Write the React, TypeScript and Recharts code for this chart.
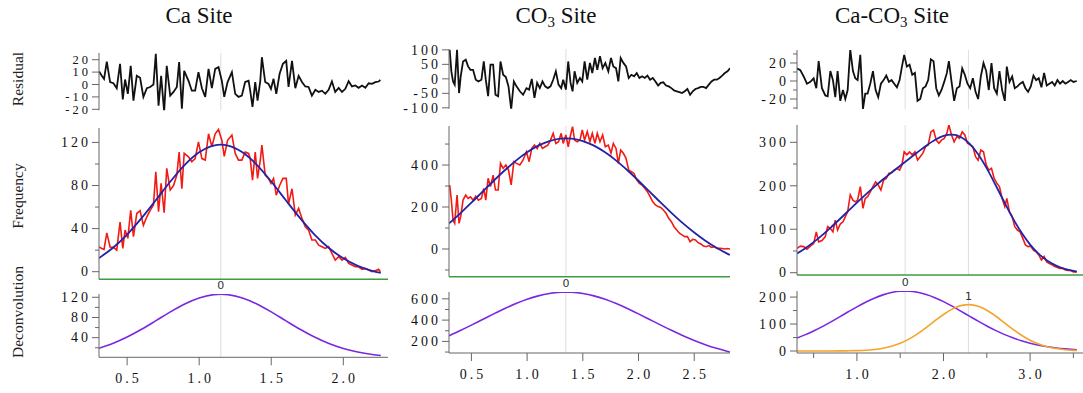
import React from 'react';
import { LineChart, Line, XAxis, YAxis, ReferenceLine, ReferenceDot } from 'recharts';

// ---- Ca site ----
const caX = [
  0.306, 0.324, 0.34, 0.359, 0.382, 0.405, 0.428, 0.451, 0.47, 0.486,
  0.505, 0.525, 0.544, 0.567, 0.59, 0.613, 0.637, 0.66, 0.683, 0.699,
  0.718, 0.736, 0.757, 0.775, 0.799, 0.822, 0.845, 0.861, 0.88, 0.896,
  0.926, 0.949, 0.972, 0.995, 1.019, 1.042, 1.065, 1.088, 1.111, 1.134,
  1.157, 1.174, 1.197, 1.227, 1.25, 1.273, 1.296, 1.319, 1.343, 1.354,
  1.37, 1.389, 1.405, 1.424, 1.435, 1.458, 1.481, 1.498, 1.516, 1.535,
  1.558, 1.581, 1.604, 1.62, 1.644, 1.667, 1.69, 1.713, 1.736, 1.759,
  1.782, 1.806, 1.829, 1.852, 1.875, 1.898, 1.921, 1.944, 1.968, 1.991,
  2.014, 2.037, 2.06, 2.083, 2.106, 2.13, 2.153, 2.176, 2.199, 2.222,
  2.245, 2.257,
];
const caData = [
  23, 21.6, 20.7, 36, 23, 22.6, 20, 46, 21.6, 38.6,
  31, 57, 32.5, 54, 56.6, 43, 51, 57, 62, 92.8,
  55.7, 82, 54.7, 95.9, 75.8, 80, 89.7, 111, 77, 109.8,
  106.7, 102, 105, 120.6, 105, 103.6, 128, 116, 128, 132,
  122, 107, 122, 126.8, 109.8, 103.6, 103.6, 111, 109.8, 105,
  85, 111, 86.6, 103.6, 117.5, 89.7, 86.6, 82, 86.6, 71,
  80, 86.6, 86.6, 63, 77, 52.6, 58.8, 49.5, 41.7, 38.6,
  29.4, 29.4, 24.7, 23.2, 21.6, 23.2, 17, 10.8, 13.9, 10.8,
  13.3, 7.7, 6.2, 4.6, 4.6, 2.2, 3, 1.5, 0, 1,
  2.2, 0,
];
const caResidual = [
  10.5, 7, 4.5, 18.5, 2, 1, -3, 16.7, -12, 4,
  -7.5, 15, -13, 7, 5.4, -10, -3, -2, 0, 24.7,
  -17, 7, -22, 15, -9, -6, -2, 18, -19.6, 11,
  3, -5, -5, 10, -3, -10, 12.6, -3, 12.6, 14,
  3, -10, 2, 10, -7.5, -10, -9, 2, 3, -5,
  -18, 2, -13, 3, 22, 2, 0.5, -3.5, 4.6, -7.5,
  8.6, 16.7, 19, -2, 19, -3, 7, 2, -1.6, -2,
  -9, -4.3, -6, -5, -7.5, -4.3, 2.4, -6, -2.7, -6,
  -3.5, 2.7, -1.6, -0.8, -2.7, -0.8, -2.7, 1, 0.5, 1.9,
  2.4, 3.8,
];
const caFitX = [0.305, 0.4, 0.5, 0.6, 0.7, 0.8, 0.9, 1.0, 1.1, 1.15, 1.2, 1.3, 1.4, 1.5, 1.6, 1.7, 1.8, 1.9, 2.0, 2.1, 2.2, 2.26];
const caFit = [12.7, 22.0, 34.5, 49.7, 66.5, 83.7, 99.2, 110.8, 117.1, 118, 117.1, 110.8, 99.2, 83.7, 66.5, 49.7, 34.5, 22.0, 12.4, 5.4, 0.7, -1.2];
const caPeak0 = [19.1, 28.5, 41.2, 56.6, 73.7, 91.1, 106.8, 118.7, 125.2, 126, 125.2, 118.7, 106.8, 91.1, 73.7, 56.6, 41.2, 28.5, 18.6, 11.6, 6.8, 4.8];
const caCenters = [1.15];
const caPeakHeights = [126];

// ---- CO3 site ----
const co3X = [
  0.305, 0.32, 0.335, 0.35, 0.371, 0.389, 0.404, 0.425, 0.449, 0.47,
  0.491, 0.515, 0.539, 0.563, 0.59, 0.611, 0.629, 0.65, 0.671, 0.695,
  0.716, 0.74, 0.761, 0.785, 0.809, 0.833, 0.857, 0.881, 0.905, 0.935,
  0.964, 0.994, 1.018, 1.042, 1.066, 1.09, 1.114, 1.138, 1.162, 1.186,
  1.21, 1.234, 1.258, 1.282, 1.306, 1.324, 1.348, 1.369, 1.39, 1.408,
  1.426, 1.45, 1.474, 1.495, 1.516, 1.54, 1.564, 1.585, 1.609, 1.63,
  1.654, 1.678, 1.702, 1.729, 1.753, 1.774, 1.798, 1.819, 1.84, 1.864,
  1.888, 1.912, 1.936, 1.96, 1.984, 2.008, 2.032, 2.056, 2.08, 2.104,
  2.128, 2.152, 2.176, 2.199, 2.223, 2.247, 2.271, 2.295, 2.319, 2.343,
  2.367, 2.391, 2.415, 2.439, 2.463, 2.487, 2.511, 2.535, 2.559, 2.583,
  2.607, 2.631, 2.655, 2.679, 2.703, 2.727, 2.751, 2.775, 2.799, 2.823,
];
const co3Data = [
  305, 233, 138, 122, 257, 122, 154, 233, 257, 241,
  249, 233, 252, 233, 241, 289, 233, 337, 297, 352,
  281, 281, 408, 384, 400, 376, 305, 416, 408, 400,
  424, 463, 416, 479, 495, 479, 503, 479, 487, 495,
  519, 551, 503, 511, 551, 503, 543, 487, 543, 583,
  519, 511, 519, 567, 519, 559, 511, 551, 503, 551,
  511, 543, 487, 495, 456, 503, 479, 408, 471, 456,
  432, 376, 368, 360, 329, 313, 305, 289, 273, 249,
  225, 210, 202, 198, 186, 170, 146, 130, 106, 90,
  75, 67, 59, 59, 35, 46, 43, 30, 24, 14,
  11, 16, 8, 11, 3, 3, 2, 0, 2, 0,
];
const co3Residual = [
  100, 26, -9, -20, 100, -49, 9, 60, 66, 43,
  31, 31, -3, -9, -3, 60, -3, -60, 49, 49,
  -55, -60, 60, 14, 6, -26, -106, -9, -26, -43,
  -55, -32, -37, 0, -66, -14, -32, -9, -26, -32,
  -26, -3, 26, -20, -32, -3, -37, 60, -14, -43,
  26, -14, 3, -9, 60, -3, 55, 20, 72, 31,
  78, 37, 55, 26, 72, 43, 37, -9, 72, 55,
  43, 3, 14, 9, 20, 3, 9, 3, 11, -3,
  3, -9, -23, -14, -12, -23, -26, -32, -40, -43,
  -46, -49, -43, -35, -55, -43, -35, -32, -28, -28,
  -32, -20, -9, -3, -3, 3, 11, 20, 26, 37,
];
const co3FitX = [0.3, 0.4, 0.5, 0.6, 0.7, 0.8, 0.9, 1.0, 1.1, 1.2, 1.3, 1.35, 1.4, 1.5, 1.6, 1.7, 1.8, 1.9, 2.0, 2.1, 2.2, 2.3, 2.4, 2.5, 2.6, 2.7, 2.8, 2.82];
const co3Fit = [122, 170.0, 220.5, 272.9, 325.1, 375.0, 420.9, 460.6, 492.3, 514.3, 525.6, 527, 525.6, 514.3, 492.3, 460.6, 420.9, 375.0, 325.1, 272.9, 220.5, 170.0, 122.0, 78.5, 39.5, 5.6, -23.4, -28.6];
const co3Peak0 = [253.3, 301.7, 352.9, 405.8, 458.6, 509.2, 555.5, 595.8, 627.8, 650.1, 661.5, 663, 661.5, 650.1, 627.8, 595.8, 555.5, 509.2, 458.6, 405.8, 352.9, 301.7, 253.3, 209.1, 169.6, 135.2, 105.9, 100.6];
const co3Centers = [1.348];
const co3PeakHeights = [663];

// ---- Ca-CO3 site ----
const cacoX = [
  0.308, 0.346, 0.385, 0.423, 0.462, 0.5, 0.531, 0.558, 0.596, 0.635,
  0.662, 0.693, 0.723, 0.75, 0.777, 0.808, 0.839, 0.866, 0.893, 0.923,
  0.954, 0.981, 1.008, 1.039, 1.07, 1.096, 1.123, 1.154, 1.185, 1.216,
  1.246, 1.277, 1.308, 1.339, 1.37, 1.4, 1.431, 1.462, 1.493, 1.52,
  1.546, 1.577, 1.608, 1.639, 1.67, 1.7, 1.731, 1.762, 1.793, 1.823,
  1.854, 1.885, 1.916, 1.946, 1.977, 2.008, 2.039, 2.062, 2.093, 2.123,
  2.154, 2.185, 2.216, 2.246, 2.277, 2.308, 2.339, 2.37, 2.4, 2.431,
  2.462, 2.493, 2.523, 2.554, 2.585, 2.616, 2.646, 2.677, 2.708, 2.731,
  2.762, 2.793, 2.823, 2.854, 2.885, 2.916, 2.946, 2.977, 3.008, 3.039,
  3.07, 3.1, 3.131, 3.162, 3.192, 3.223, 3.254, 3.285, 3.316, 3.346,
  3.377, 3.408, 3.439, 3.47, 3.5, 3.539,
];
const cacoData = [
  56, 61, 60, 54, 61, 67, 94, 71, 74, 83,
  106, 102, 94, 121, 98, 112, 117, 129, 140, 179,
  167, 163, 167, 198, 148, 171, 175, 186, 198, 209,
  202, 190, 213, 217, 229, 230, 236, 240, 236, 248,
  278, 271, 278, 271, 278, 259, 267, 275, 290, 294,
  324, 328, 305, 298, 305, 309, 321, 340, 317, 301,
  313, 309, 324, 317, 298, 294, 290, 267, 259, 282,
  278, 248, 236, 240, 217, 206, 198, 171, 152, 171,
  140, 129, 106, 98, 94, 79, 64, 60, 61, 52,
  48, 41, 29, 37, 25, 21, 18, 14, 12, 10,
  10, 6, 5, 5, 2, 2,
];
const cacoResidual = [
  14, 12, 5, -3, -1, 3, -8, 22, -8, -16,
  -17, 11, 1, -18, 11, -22, -10, -20, -10, 35,
  11, 3, 1, 29, -31, -14, -14, -3, 11, -10,
  -18, -3, 1, 6, -1, 1, -3, -7, 1, 16,
  29, 16, 18, 7, 9, -22, -20, -8, -6, 1,
  24, 22, -8, -16, -10, -1, 9, 22, -1, -22,
  -8, -6, 14, 7, -3, -8, 3, -12, -20, 5,
  20, 11, -10, 20, -8, -14, 11, -10, -22, 16,
  -1, 5, -8, -6, -3, -1, -8, -12, -6, 6,
  1, 3, -7, 9, -5, -3, -1, -5, 1, -3,
  0, -3, -1, 1, -1, 0,
];
const cacoFitX = [0.31, 0.4, 0.5, 0.6, 0.7, 0.8, 0.9, 1.0, 1.1, 1.2, 1.3, 1.4, 1.5, 1.6, 1.7, 1.8, 1.9, 2.0, 2.1, 2.2, 2.3, 2.4, 2.5, 2.6, 2.7, 2.8, 2.9, 3.0, 3.1, 3.2, 3.3, 3.4, 3.5, 3.54];
const cacoFit = [44.3, 55.8, 70.3, 86.5, 104.2, 122.9, 142.1, 161.2, 179.8, 197.6, 214.4, 230.4, 246.0, 261.6, 277.1, 292.1, 305.3, 314.6, 317.6, 312.2, 297.1, 272.5, 239.9, 202.3, 163.2, 125.6, 92.3, 64.7, 43.2, 27.4, 16.3, 8.8, 4.0, 2.6];
const cacoPeak0 = [48.3, 59.8, 74.3, 90.4, 108.1, 126.6, 145.4, 163.8, 180.9, 195.9, 208.1, 216.7, 221.3, 221.6, 217.6, 209.5, 197.8, 183.2, 166.3, 148.0, 129.2, 110.6, 92.8, 76.4, 61.7, 48.8, 37.9, 28.8, 21.5, 15.7, 11.3, 7.9, 5.5, 4.7];
const cacoPeak1 = [0, 0, 0, 0.1, 0.1, 0.3, 0.7, 1.4, 2.9, 5.7, 10.3, 17.7, 28.7, 44.0, 63.5, 86.6, 111.5, 135.4, 155.3, 168.2, 171.9, 165.9, 151.1, 129.9, 105.5, 80.8, 58.4, 39.9, 25.7, 15.7, 9.0, 4.9, 2.5, 1.9];
const cacoCenters = [1.557, 2.288];
const cacoPeakHeights = [222, 172];

// ---- tick values / labels ----
const caResTicks = [-20, -10, 0, 10, 20];
const caResLabels = [-20, -10, 0, 10, 20];
const caFreqTicks = [0, 20, 40, 60, 80, 100, 120];
const caFreqLabels = [0, 40, 80, 120];
const caDecTicks = [20, 40, 60, 80, 100, 120];
const caDecLabels = [40, 80, 120];
const caXTicks = [0.5, 1.0, 1.5, 2.0];
const caXLabels = [0.5, 1.0, 1.5, 2.0];

const co3ResTicks = [-100, -50, 0, 50, 100];
const co3ResLabels = [-100, -50, 0, 50, 100];
const co3FreqTicks = [-100, 0, 100, 200, 300, 400, 500];
const co3FreqLabels = [0, 200, 400];
const co3DecTicks = [100, 200, 300, 400, 500, 600];
const co3DecLabels = [200, 400, 600];
const co3XTicks = [0.5, 1.0, 1.5, 2.0, 2.5];
const co3XLabels = [0.5, 1.0, 1.5, 2.0, 2.5];

const cacoResTicks = [-30, -20, -10, 0, 10, 20, 30];
const cacoResLabels = [-20, 0, 20];
const cacoFreqTicks = [0, 50, 100, 150, 200, 250, 300];
const cacoFreqLabels = [0, 100, 200, 300];
const cacoDecTicks = [0, 50, 100, 150, 200];
const cacoDecLabels = [0, 100, 200];
const cacoXTicks = [0.5, 1.0, 1.5, 2.0, 2.5, 3.0, 3.5];
const cacoXLabels = [1.0, 2.0, 3.0];

const pts = (xs: number[], ys: number[]) => xs.map((x, i) => ({ x, y: ys[i] }));

const TICK_FONT = 'Liberation Serif';
const LABEL_FONT = 'Liberation Serif';
const TICK_SIZE = 14;
const LS = 3;
const AXIS = '#666';
const TS = 7;
const TM = 4;

const RED = '#f21b13';
const BLUE = '#2323a8';
const PURPLE = '#7a28df';
const ORANGE = '#f5a32c';
const GREEN = '#3f9d3f';

const YTick = (props: any) => {
  const { x, y, payload, labels, size } = props;
  const ax = x + TS + TM;
  const major = labels.includes(payload.value);
  return (
    <g>
      <line x1={ax} x2={ax - (major ? TS : 4)} y1={y} y2={y} stroke={AXIS} />
      {major && (
        <text x={x + LS} y={y} dy="0.34em" textAnchor="end" fontFamily={TICK_FONT} fontSize={size} fill="#111" style={{ letterSpacing: LS }}>
          {String(payload.value)}
        </text>
      )}
    </g>
  );
};

const XTick = (props: any) => {
  const { x, y, payload, labels } = props;
  const ay = y - TS - 8;
  const major = labels.includes(payload.value);
  return (
    <g>
      <line x1={x} x2={x} y1={ay} y2={ay + (major ? 8 : 5)} stroke={AXIS} />
      {major && (
        <text x={x + LS / 2} y={ay + 21} dy="0.34em" textAnchor="middle" fontFamily={TICK_FONT} fontSize={TICK_SIZE} fill="#111" style={{ letterSpacing: LS }}>
          {payload.value.toFixed(1)}
        </text>
      )}
    </g>
  );
};

type Series = { data: { x: number; y: number }[]; color: string; width: number; smooth?: boolean };

type PanelProps = {
  left: number;
  right: number;
  top: number;
  bottom: number;
  xDomain: [number, number];
  yDomain: [number, number];
  yTicks: number[];
  yLabels: number[];
  series: Series[];
  centers: number[];
  peaks?: { x: number; y: number; label: string }[];
  xMode: 'none' | 'line' | 'ticks';
  xTicks?: number[];
  xLabels?: number[];
  tickFont?: number;
};

function Panel(p: PanelProps) {
  const yw = 62;
  const mt = p.xMode === 'ticks' ? 16 : 10;
  const mb = p.xMode === 'none' ? 8 : p.xMode === 'line' ? 6 : 2;
  const xh = p.xMode === 'line' ? 1 : p.xMode === 'ticks' ? 32 : 0;
  const width = p.right - p.left + yw;
  const height = p.bottom - p.top + mt + mb + xh;
  const size = p.tickFont || TICK_SIZE;
  return (
    <div style={{ position: 'absolute', left: p.left - yw, top: p.top - mt }}>
      <LineChart width={width} height={height} margin={{ top: mt, right: 0, bottom: mb, left: 0 }}>
        {p.xMode === 'ticks' ? (
          <XAxis
            type="number"
            dataKey="x"
            domain={p.xDomain}
            allowDataOverflow
            ticks={p.xTicks}
            interval={0}
            height={xh}
            tickSize={TS}
            tickMargin={8}
            tickLine={false}
            axisLine={{ stroke: AXIS }}
            tick={(t: any) => <XTick {...t} labels={p.xLabels} />}
          />
        ) : (
          <XAxis
            type="number"
            dataKey="x"
            domain={p.xDomain}
            allowDataOverflow
            hide={p.xMode === 'none'}
            height={xh}
            tick={false}
            tickLine={false}
            axisLine={{ stroke: GREEN, strokeWidth: 1.6 }}
          />
        )}
        <YAxis
          type="number"
          width={yw}
          domain={p.yDomain}
          allowDataOverflow
          ticks={p.yTicks}
          interval={0}
          tickSize={TS}
          tickMargin={TM}
          tickLine={false}
          axisLine={{ stroke: AXIS }}
          tick={(t: any) => <YTick {...t} labels={p.yLabels} size={size} />}
        />
        {p.centers.map((c) => (
          <ReferenceLine key={c} x={c} stroke="#dedede" strokeWidth={1} />
        ))}
        {p.series.map((s, i) => (
          <Line
            key={i}
            data={s.data}
            dataKey="y"
            type={s.smooth ? 'monotone' : 'linear'}
            stroke={s.color}
            strokeWidth={s.width}
            dot={false}
            activeDot={false}
            isAnimationActive={false}
          />
        ))}
        {(p.peaks || []).map((k) => (
          <ReferenceDot
            key={k.label}
            x={k.x}
            y={k.y}
            r={0}
            fill="none"
            stroke="none"
            label={{ value: k.label, position: 'top', offset: 5, fontSize: 11, fill: '#333', fontFamily: 'DejaVu Sans' }}
          />
        ))}
      </LineChart>
    </div>
  );
}

const titleStyle: React.CSSProperties = {
  position: 'absolute',
  top: 4,
  width: 300,
  textAlign: 'center',
  fontFamily: LABEL_FONT,
  fontSize: 23,
  lineHeight: '23px',
  color: '#111',
  whiteSpace: 'nowrap',
};

const subStyle: React.CSSProperties = { fontSize: '0.65em', verticalAlign: '-0.3em', lineHeight: 0 };

const rowLabel = (text: string, cy: number) => (
  <div
    style={{
      position: 'absolute',
      left: 17.5,
      top: cy,
      transform: 'translate(-50%, -50%) rotate(-90deg)',
      fontFamily: LABEL_FONT,
      fontSize: 15.5,
      color: '#222',
      whiteSpace: 'nowrap',
      lineHeight: '16px',
    }}
  >
    {text}
  </div>
);

export default function App() {
  const caXD: [number, number] = [0.305, 2.31];
  const co3XD: [number, number] = [0.299, 2.821];
  const cacoXD: [number, number] = [0.308, 3.611];

  return (
    <div style={{ position: 'absolute', left: 0, top: 0, width: 1083, height: 393, background: '#fff', overflow: 'hidden' }}>
      <div style={{ ...titleStyle, left: 199 - 150 }}>Ca Site</div>
      <div style={{ ...titleStyle, left: 556 - 150 }}>
        CO<span style={subStyle}>3</span> Site
      </div>
      <div style={{ ...titleStyle, left: 892 - 150 }}>
        Ca-CO<span style={subStyle}>3</span> Site
      </div>

      {rowLabel('Residual', 79)}
      {rowLabel('Frequency', 196)}
      {rowLabel('Deconvolution', 312)}

      {/* Ca site */}
      <Panel left={99} right={388} top={52.7} bottom={110} xDomain={caXD} yDomain={[-20.8, 25.4]}
        yTicks={caResTicks} yLabels={caResLabels} centers={caCenters} xMode="none" tickFont={12.5}
        series={[{ data: pts(caX, caResidual), color: '#111', width: 1.8 }]} />
      <Panel left={99} right={388} top={128} bottom={279.3} xDomain={caXD} yDomain={[-7.05, 133.4]}
        yTicks={caFreqTicks} yLabels={caFreqLabels} centers={caCenters} xMode="line"
        series={[
          { data: pts(caX, caData), color: RED, width: 1.6 },
          { data: pts(caFitX, caFit), color: BLUE, width: 1.8, smooth: true },
        ]} />
      <Panel left={99} right={388} top={294} bottom={357.3} xDomain={caXD} yDomain={[1.2, 126.5]}
        yTicks={caDecTicks} yLabels={caDecLabels} centers={caCenters} xMode="ticks"
        xTicks={caXTicks} xLabels={caXLabels}
        peaks={[{ x: caCenters[0], y: caPeakHeights[0], label: '0' }]}
        series={[{ data: pts(caFitX, caPeak0), color: PURPLE, width: 1.6, smooth: true }]} />

      {/* CO3 site */}
      <Panel left={449} right={730} top={49.3} bottom={109} xDomain={co3XD} yDomain={[-103, 103]}
        yTicks={co3ResTicks} yLabels={co3ResLabels} centers={co3Centers} xMode="none"
        series={[{ data: pts(co3X, co3Residual), color: '#111', width: 1.8 }]} />
      <Panel left={449} right={730} top={126} bottom={276.7} xDomain={co3XD} yDomain={[-132, 586]}
        yTicks={co3FreqTicks} yLabels={co3FreqLabels} centers={co3Centers} xMode="line"
        series={[
          { data: pts(co3X, co3Data), color: RED, width: 1.6 },
          { data: pts(co3FitX, co3Fit), color: BLUE, width: 1.8, smooth: true },
        ]} />
      <Panel left={449} right={730} top={292.3} bottom={353.3} xDomain={co3XD} yDomain={[91, 664]}
        yTicks={co3DecTicks} yLabels={co3DecLabels} centers={co3Centers} xMode="ticks"
        xTicks={co3XTicks} xLabels={co3XLabels}
        peaks={[{ x: co3Centers[0], y: co3PeakHeights[0], label: '0' }]}
        series={[{ data: pts(co3FitX, co3Peak0), color: PURPLE, width: 1.6, smooth: true }]} />

      {/* Ca-CO3 site */}
      <Panel left={797} right={1083} top={50} bottom={109.3} xDomain={cacoXD} yDomain={[-31.4, 34.4]}
        yTicks={cacoResTicks} yLabels={cacoResLabels} centers={cacoCenters} xMode="none"
        series={[{ data: pts(cacoX, cacoResidual), color: '#111', width: 1.8 }]} />
      <Panel left={797} right={1083} top={125} bottom={275} xDomain={cacoXD} yDomain={[-5.3, 339.8]}
        yTicks={cacoFreqTicks} yLabels={cacoFreqLabels} centers={cacoCenters} xMode="line"
        series={[
          { data: pts(cacoX, cacoData), color: RED, width: 1.6 },
          { data: pts(cacoFitX, cacoFit), color: BLUE, width: 1.8, smooth: true },
        ]} />
      <Panel left={797} right={1083} top={290.7} bottom={352.7} xDomain={cacoXD} yDomain={[-7.4, 222.5]}
        yTicks={cacoDecTicks} yLabels={cacoDecLabels} centers={cacoCenters} xMode="ticks"
        xTicks={cacoXTicks} xLabels={cacoXLabels}
        peaks={[
          { x: cacoCenters[0], y: cacoPeakHeights[0], label: '0' },
          { x: cacoCenters[1], y: cacoPeakHeights[1], label: '1' },
        ]}
        series={[
          { data: pts(cacoFitX, cacoPeak0), color: PURPLE, width: 1.6, smooth: true },
          { data: pts(cacoFitX, cacoPeak1), color: ORANGE, width: 1.6, smooth: true },
        ]} />
    </div>
  );
}
